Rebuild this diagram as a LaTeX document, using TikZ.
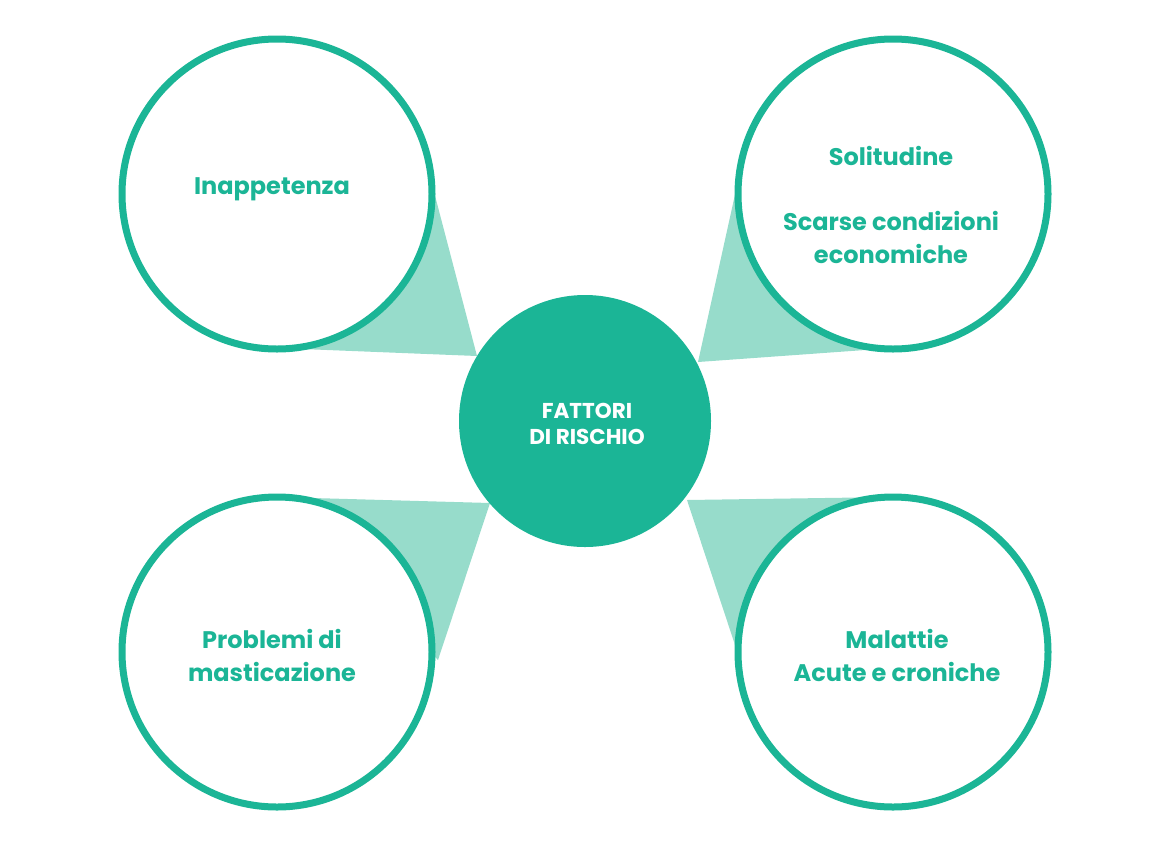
\documentclass[tikz,border=0pt]{standalone}
\usepackage{fontspec}
\setmainfont{Poppins}
\definecolor{teal1}{RGB}{27,181,150}
\definecolor{teal2}{RGB}{151,220,203}
\tikzset{
  outer/.style={circle, draw=teal1, line width=7pt, fill=white, minimum size=310pt, inner sep=0pt},
  hub/.style={circle, fill=teal1, minimum size=252pt, inner sep=0pt},
  wedge/.style={fill=teal2},
  lbl/.style={text=teal1, font=\fontsize{24}{33}\selectfont\bfseries, align=center},
  hublbl/.style={text=white, font=\fontsize{21.5}{26}\selectfont\bfseries, align=center}
}
\begin{document}
\begin{tikzpicture}[x=1pt,y=-1pt]
\useasboundingbox (0,0) rectangle (1170,847);
% wedge vertices
\coordinate (tla) at (433,188);
\coordinate (tlb) at (477,356);
\coordinate (tlc) at (277,348);
\coordinate (tra) at (736,190);
\coordinate (trb) at (698,362);
\coordinate (trc) at (893,348);
\coordinate (bla) at (277,497);
\coordinate (blb) at (490,503);
\coordinate (blc) at (438,660);
\coordinate (bra) at (893,497);
\coordinate (brb) at (687,500);
\coordinate (brc) at (740,660);
\fill[wedge] (tla) -- (tlb) -- (tlc) -- cycle;
\fill[wedge] (tra) -- (trb) -- (trc) -- cycle;
\fill[wedge] (bla) -- (blb) -- (blc) -- cycle;
\fill[wedge] (bra) -- (brb) -- (brc) -- cycle;
% circles
\node[outer] (tl) at (277,194) {};
\node[outer] (tr) at (893,194) {};
\node[outer] (bl) at (277,652) {};
\node[outer] (br) at (893,652) {};
\node[hub] (hub) at (585,421) {};
% labels
\node[lbl] (tltext) at (272,189) {Inappetenza};
\node[lbl] (trtext1) at (891,156) {Solitudine};
\node[lbl] (trtext2) at (891,237) {Scarse condizioni\\economiche};
\node[lbl] (bltext) at (272,655) {Problemi di\\masticazione};
\node[lbl] (brtext) at (897,655) {Malattie\\Acute e croniche};
\node[hublbl] (hubtext) at (587,424) {FATTORI\\DI RISCHIO};
\end{tikzpicture}
\end{document}
